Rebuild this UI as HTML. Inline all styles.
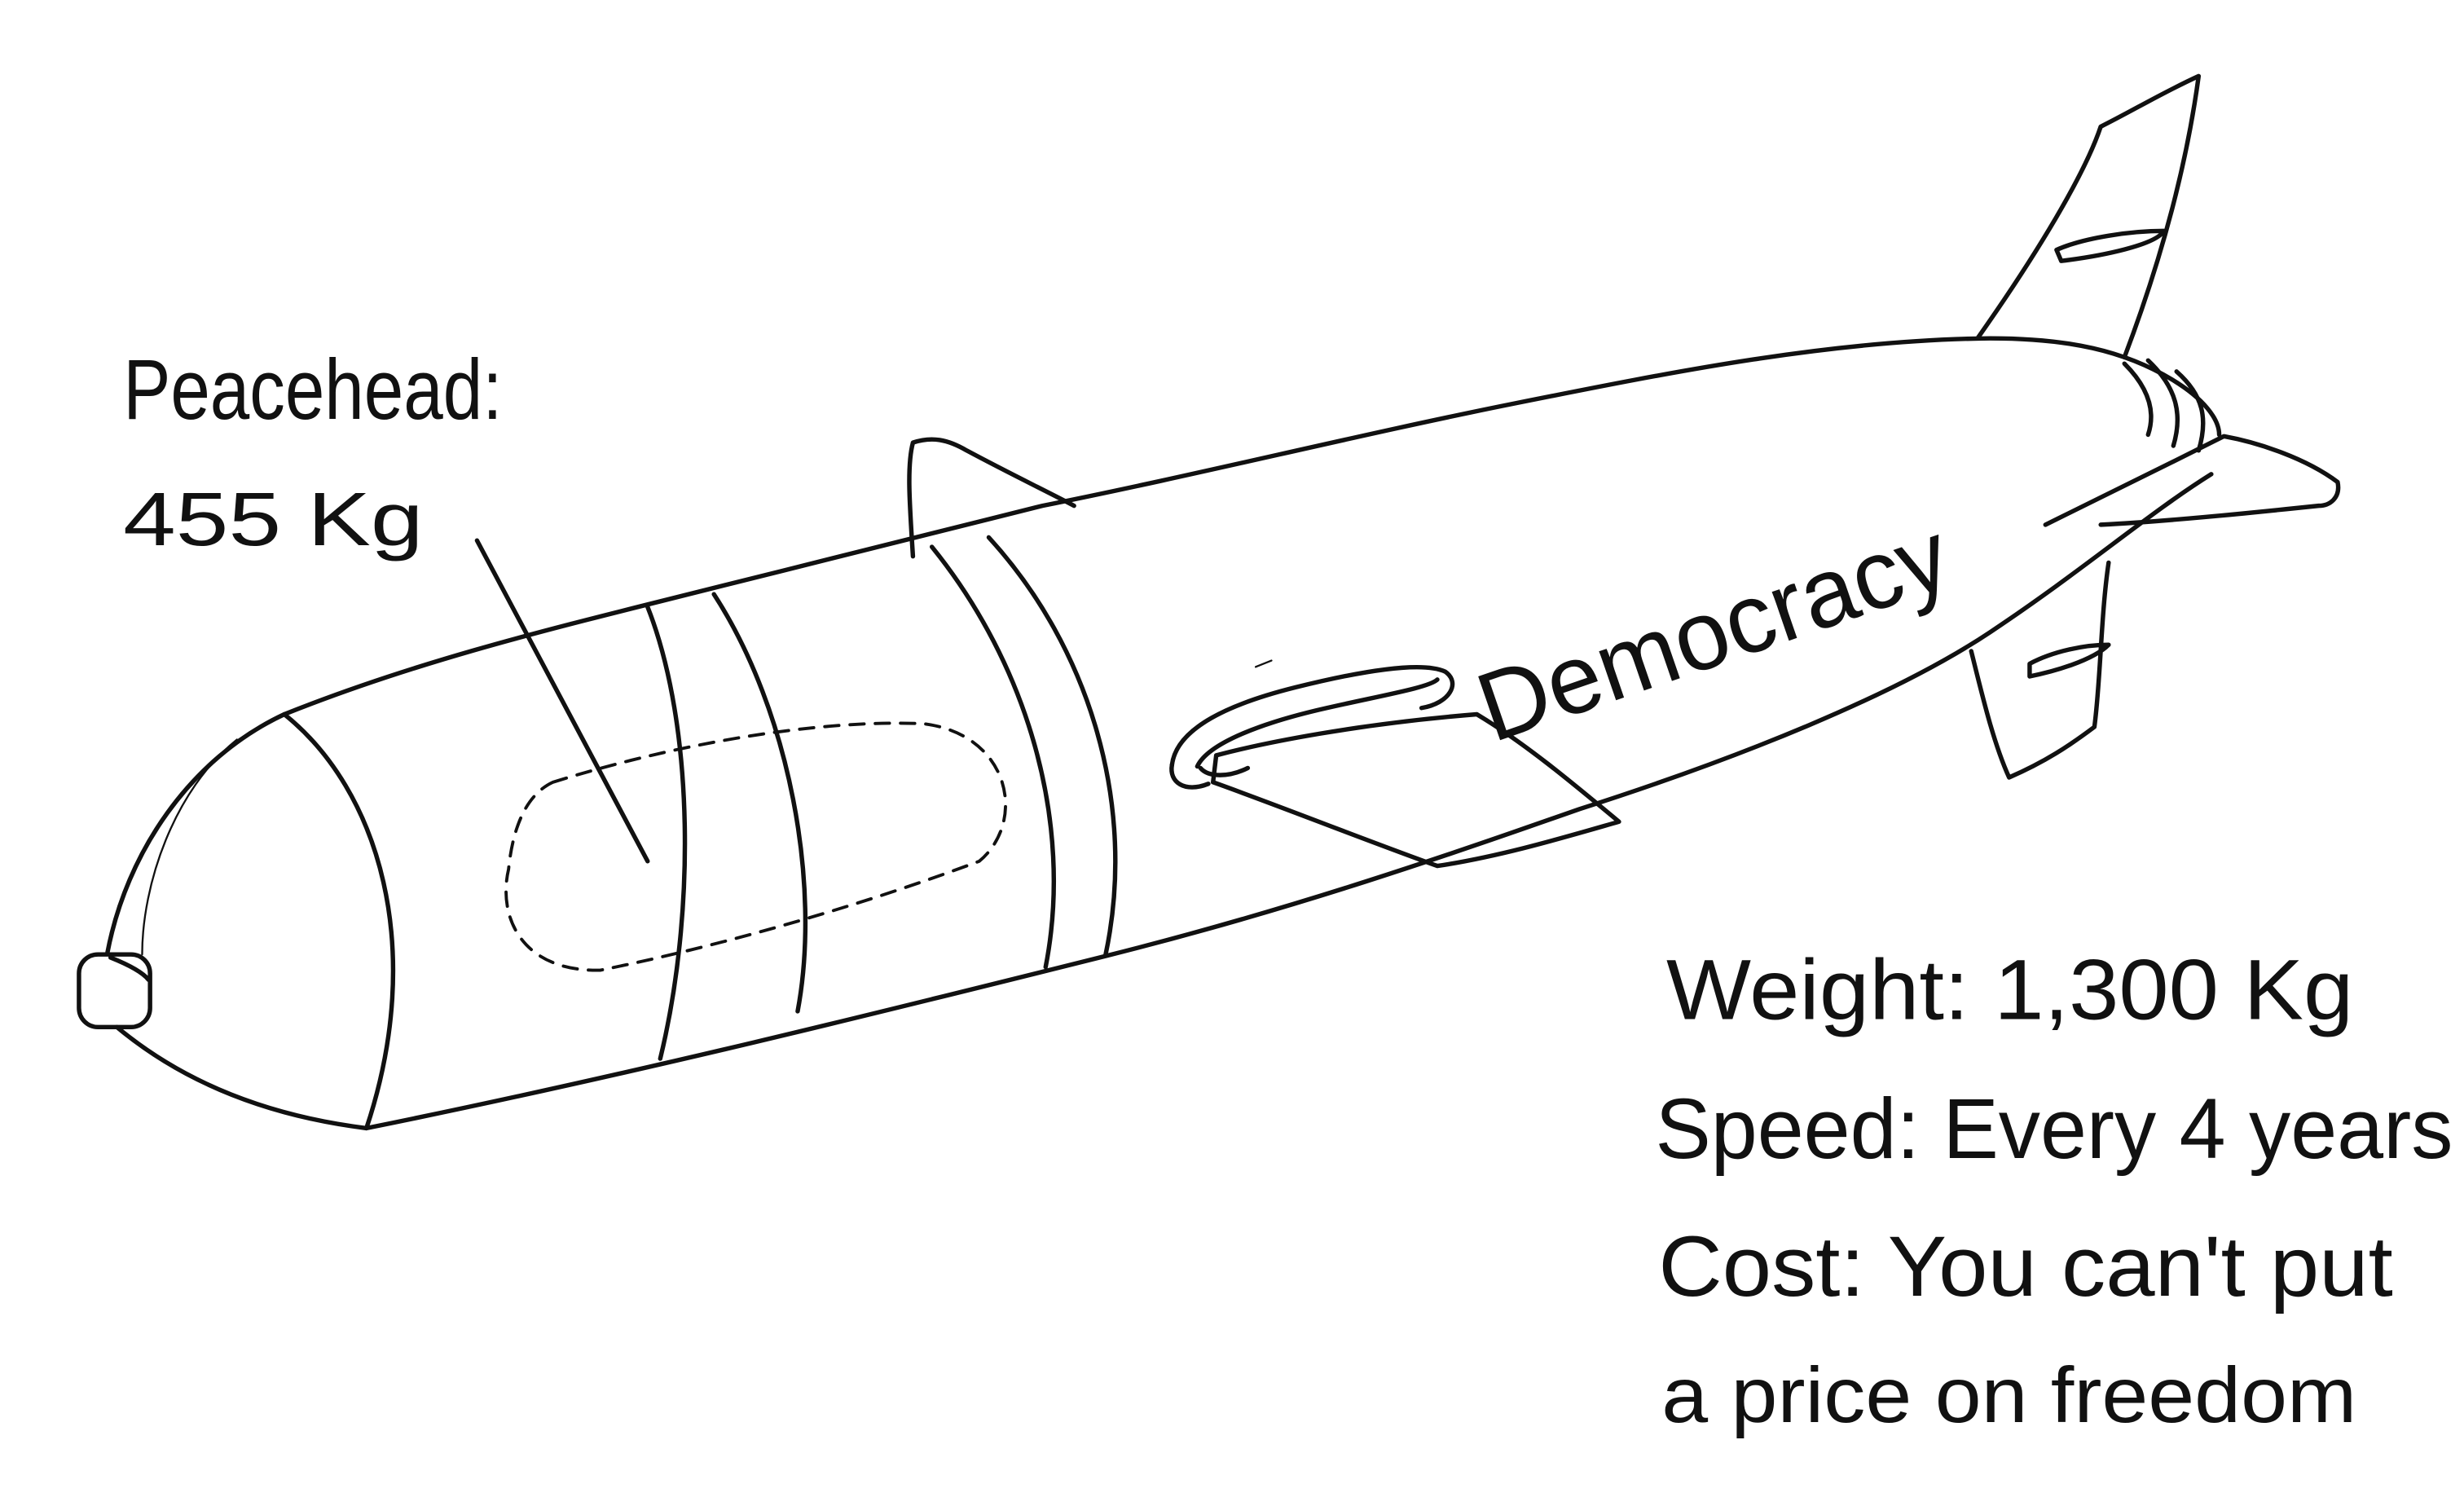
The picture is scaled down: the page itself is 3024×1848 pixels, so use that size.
<!DOCTYPE html>
<html><head><meta charset="utf-8"><style>
html,body{margin:0;padding:0;background:#fff;}
svg{display:block;}
text{font-family:"Liberation Sans",sans-serif;fill:#111;}
</style></head><body>
<svg width="3024" height="1848" viewBox="0 0 1560 953" xmlns="http://www.w3.org/2000/svg">
<g fill="none" stroke="#111" stroke-width="2.8" stroke-linecap="round" stroke-linejoin="round">
<path d="M68,603 C80,540 120,480 180,452 C260,420 340,400 420,380 C500,360 560,345 660,320 C760,300 860,275 960,255 C1060,235 1160,215 1260,214 C1310,214 1345,222 1375,240 C1395,252 1405,265 1405,275"/>
<path d="M74,650 C110,680 160,705 232,714 C400,680 560,640 700,605 C820,575 920,540 1000,512 C1100,480 1200,440 1260,400 C1320,360 1360,325 1400,300"/>
<rect x="50" y="604" width="45" height="46" rx="12"/>
<path d="M70,606 C80,610 90,615 94,620"/>
<path d="M180,452 C240,500 270,600 232,714"/>
<path d="M150,468 C110,500 90,560 90,604" stroke-width="1.2"/>
<path d="M410,384 C440,460 440,580 418,670"/>
<path d="M452,376 C500,450 520,560 505,640"/>
<path d="M590,346 C650,420 680,520 662,612"/>
<path d="M626,340 C690,410 720,510 700,604"/>
<path d="M350,495 C430,470 520,455 585,458 C640,465 650,520 620,545 C540,575 450,600 380,614 C330,615 315,580 322,550 C325,520 335,502 350,495 Z" stroke-dasharray="9,7" stroke-width="2"/>
<path d="M302,342 L410,545"/>
<path d="M578,352 C576,320 574,295 578,280 C590,276 600,278 612,285 C640,300 665,312 680,320"/>
<path d="M742,484 C745,460 780,445 820,435 C860,425 900,418 915,425 C925,432 918,445 900,448"/>
<path d="M758,485 C765,470 800,457 840,448 C875,440 905,435 910,430"/>
<path d="M760,486 C765,492 778,492 790,486"/>
<path d="M770,478 C800,470 860,458 935,452 C965,470 995,495 1025,520 C990,530 950,542 910,548 C860,530 810,510 768,495 Z"/>
<path d="M742,484 C740,495 750,502 765,496"/>
<path d="M1252,214 C1290,160 1320,110 1330,80 C1350,70 1370,58 1392,48 C1385,100 1370,160 1345,226"/>
<path d="M1302,158 C1320,150 1350,146 1370,146 C1365,155 1330,162 1305,165 Z"/>
<path d="M1345,230 C1360,245 1365,260 1360,275"/>
<path d="M1360,228 C1378,245 1382,262 1376,282"/>
<path d="M1378,235 C1395,250 1398,265 1392,285"/>
<path d="M1295,332 C1330,315 1370,295 1408,276 C1430,280 1460,290 1480,305 C1482,315 1475,320 1468,320 C1420,325 1370,330 1330,332"/>
<path d="M1335,356 C1330,390 1330,430 1326,460 C1310,472 1295,482 1272,492 C1262,470 1255,440 1248,412"/>
<path d="M1285,420 C1300,412 1320,408 1335,408 C1325,418 1300,425 1285,428 Z"/>
<path d="M795,422 L805,418" stroke-width="1.2"/>
</g>
<text x="78" y="265" font-size="54" textLength="240" lengthAdjust="spacingAndGlyphs">Peacehead:</text>
<text x="78" y="345" font-size="48" textLength="190" lengthAdjust="spacingAndGlyphs">455 Kg</text>
<text x="945" y="470" font-size="62" transform="rotate(-19 945 470)" textLength="310" lengthAdjust="spacingAndGlyphs">Democracy</text>
<text x="1055" y="645" font-size="54" textLength="435" lengthAdjust="spacingAndGlyphs">Weight: 1,300 Kg</text>
<text x="1048" y="733" font-size="54" textLength="505" lengthAdjust="spacingAndGlyphs">Speed: Every 4 years</text>
<text x="1050" y="820" font-size="54" textLength="465" lengthAdjust="spacingAndGlyphs">Cost: You can't put</text>
<text x="1052" y="900" font-size="50" textLength="440" lengthAdjust="spacingAndGlyphs">a price on freedom</text>
</svg>
</body></html>
